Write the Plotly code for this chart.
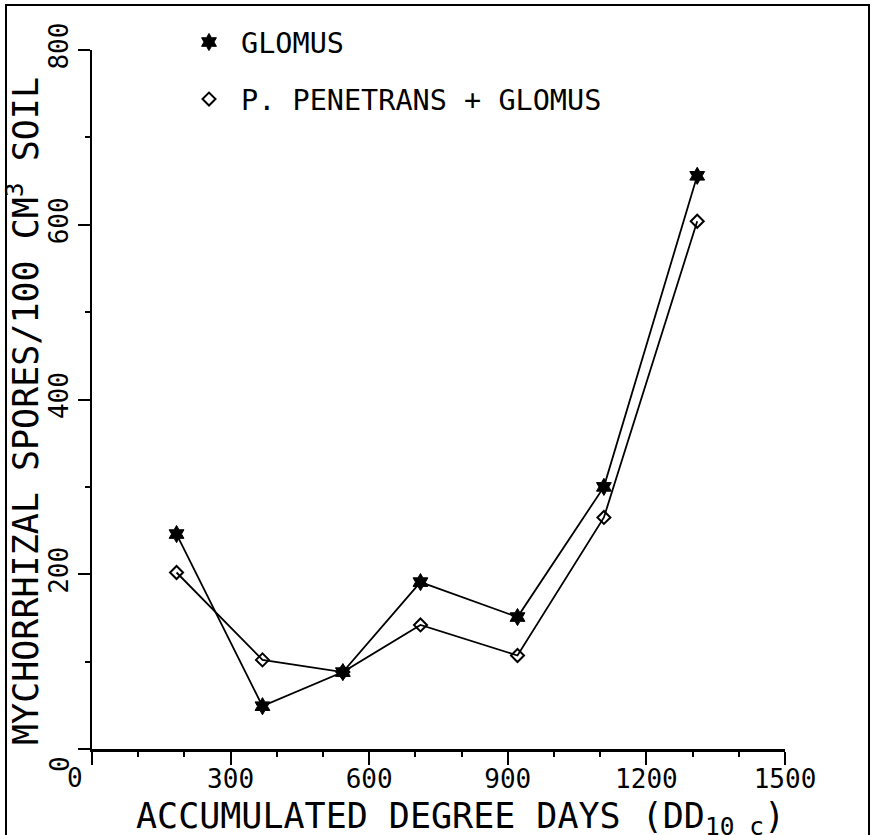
import plotly.graph_objects as go

# ---- data ----
degree_days = [183, 369, 543, 711, 921, 1108, 1310]
glomus = [246, 49, 88, 191, 151, 300, 656]
pp_glomus = [202, 102, 88, 142, 107, 265, 604]

x_tick_vals = [0, 300, 600, 900, 1200, 1500]
x_tick_text = ["", "300", "600", "900", "1200", "1500"]
y_tick_vals = [0, 200, 400, 600, 800]
y_tick_text = ["", "200", "400", "600", "800"]

series_names = ["GLOMUS", "P. PENETRANS + GLOMUS"]

# ---- layout geometry (pixels) ----
W, H = 873, 835
PX0, PX1 = 92, 785     # plot left / right
PY0, PY1 = 50, 749     # plot top / bottom
FONT = "DejaVu Sans Mono"


def px(x):
    return x / W


def py(y):
    return 1 - y / H


fig = go.Figure()

fig.add_trace(go.Scatter(
    x=degree_days, y=glomus, mode="lines+markers", showlegend=False,
    line=dict(color="black", width=1.8),
    marker=dict(symbol="hexagram", size=13, color="black",
                line=dict(color="black", width=1)),
))
fig.add_trace(go.Scatter(
    x=degree_days, y=pp_glomus, mode="lines+markers", showlegend=False,
    line=dict(color="black", width=1.8),
    marker=dict(symbol="diamond-open", size=10, color="black",
                line=dict(color="black", width=2)),
))
# legend-only entries (markers only, as in the original)
fig.add_trace(go.Scatter(
    x=[None], y=[None], mode="markers", name=series_names[0], legendgroup="a",
    marker=dict(symbol="hexagram", size=13, color="black",
                line=dict(color="black", width=1)),
))
fig.add_trace(go.Scatter(
    x=[None], y=[None], mode="markers", name=series_names[1], legendgroup="b",
    marker=dict(symbol="diamond-open", size=10, color="black",
                line=dict(color="black", width=2)),
))

fig.update_layout(
    width=W, height=H, autosize=False,
    margin=dict(l=0, r=0, t=0, b=0, pad=0),
    paper_bgcolor="white", plot_bgcolor="white",
    font=dict(family=FONT, color="black", size=26),
    showlegend=True,
    legend=dict(
        x=px(177), y=py(17), xanchor="left", yanchor="top",
        font=dict(family=FONT, size=28.5, color="black"),
        bgcolor="rgba(0,0,0,0)", traceorder="grouped", tracegroupgap=17,
        itemwidth=54,
    ),
    xaxis=dict(
        domain=[px(PX0), px(PX1)], range=[0, 1500], automargin=False,
        showgrid=False, zeroline=False,
        showline=True, linecolor="black", linewidth=2.5,
        ticks="outside", ticklen=13, tickwidth=1.5, tickcolor="black",
        tickvals=x_tick_vals, ticktext=x_tick_text,
        tickfont=dict(family=FONT, size=26, color="black"),
        ticklabelstandoff=-8,
        minor=dict(dtick=100, ticks="outside", ticklen=5, tickwidth=1.5,
                   tickcolor="black", showgrid=False),
        anchor="y",
    ),
    yaxis=dict(
        domain=[py(PY1), py(PY0)], range=[0, 800], automargin=False,
        showgrid=False, zeroline=False,
        showline=True, linecolor="black", linewidth=2,
        ticks="outside", ticklen=12, tickwidth=1.5, tickcolor="black",
        tickvals=y_tick_vals, ticktext=y_tick_text, tickangle=-90,
        tickfont=dict(family=FONT, size=26, color="black"),
        minor=dict(dtick=100, ticks="outside", ticklen=5, tickwidth=1.5,
                   tickcolor="black", showgrid=False),
        anchor="x",
    ),
)

annotations = [
    dict(text="MYCHORRHIZAL SPORES/100 CM<sup>3</sup> SOIL", textangle=-90,
         x=px(23), y=py(411), font=dict(family=FONT, size=35, color="black")),
    dict(text="ACCUMULATED DEGREE DAYS (DD<sub>10 c</sub>)",
         x=px(460), y=py(818), font=dict(family=FONT, size=35, color="black")),
    dict(text="0", x=px(75), y=py(778), font=dict(family=FONT, size=26, color="black")),
    dict(text="0", textangle=-90, x=px(60), y=py(764),
         font=dict(family=FONT, size=26, color="black")),
]
for a in annotations:
    a.update(xref="paper", yref="paper", showarrow=False,
             xanchor="center", yanchor="middle")
fig.update_layout(annotations=annotations)

# outer frame
fig.add_shape(type="rect", xref="paper", yref="paper",
              x0=px(6), x1=px(869), y0=py(845), y1=py(5),
              line=dict(color="black", width=2))

fig.write_html(
    "out.html",
    config={"displayModeBar": False},
    post_script="document.body.style.margin='0';document.body.style.padding='0';"
                "document.body.style.overflow='hidden';"
                "document.documentElement.style.overflow='hidden';",
)
